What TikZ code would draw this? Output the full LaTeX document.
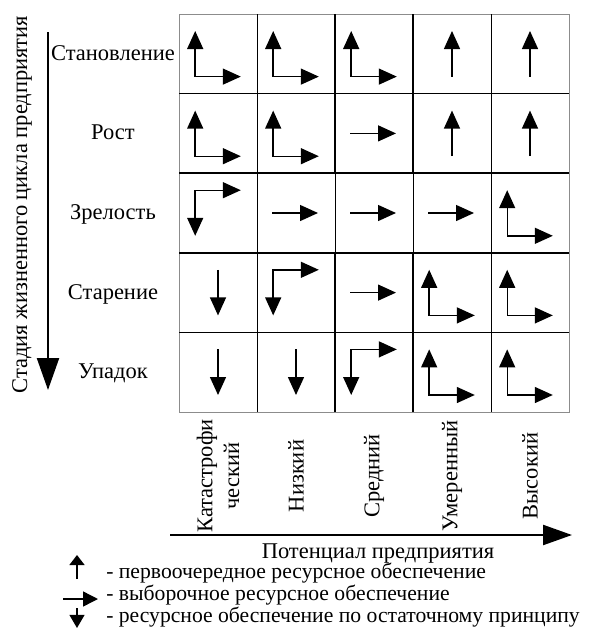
\documentclass[tikz,border=0pt]{standalone}
\usepackage{fontspec}
\setmainfont{Liberation Serif}
\usepackage{tikz}
\usetikzlibrary{positioning,calc,arrows.meta}

% arrows inside one cell (argument: cell name)
\newcommand{\arrUR}[1]{\draw[cellarr, {Triangle[length=0.45cm,width=0.4cm]}-{Triangle[length=0.45cm,width=0.4cm]}]
  ($(#1)+(-0.57,0.57)$) |- ($(#1)+(0.57,-0.57)$);}
\newcommand{\arrDR}[1]{\draw[cellarr, {Triangle[length=0.45cm,width=0.4cm]}-{Triangle[length=0.45cm,width=0.4cm]}]
  ($(#1)+(-0.57,-0.57)$) |- ($(#1)+(0.57,0.57)$);}
\newcommand{\arrU}[1]{\draw[cellarr, -{Triangle[length=0.45cm,width=0.4cm]}]
  ($(#1)+(0,-0.57)$) -- ($(#1)+(0,0.57)$);}
\newcommand{\arrD}[1]{\draw[cellarr, -{Triangle[length=0.45cm,width=0.4cm]}]
  ($(#1)+(0,0.57)$) -- ($(#1)+(0,-0.57)$);}
\newcommand{\arrR}[1]{\draw[cellarr, -{Triangle[length=0.45cm,width=0.4cm]}]
  ($(#1)+(-0.6,0)$) -- ($(#1)+(0.55,0)$);}

\begin{document}
\begin{tikzpicture}[
  cell/.style={draw=black!45, minimum width=1.95cm, minimum height=1.99cm,
    inner sep=0pt, outer sep=0pt},
  gline/.style={black, line width=0.6pt},
  tline/.style={black, line width=1.6pt},
  cellarr/.style={black, line width=1pt},
  axis/.style={black, line width=1.6pt},
  txt/.style={font=\fontsize{16}{19}\selectfont, inner sep=0pt},
  lbl/.style={txt, anchor=base},
  collbl/.style={txt, rotate=90, align=center},
  leg/.style={font=\fontsize{15.4}{13.2}\selectfont, inner sep=0pt,
    anchor=base west, align=left}
]
\useasboundingbox (0,0) rectangle (14.725,-15.725);

% ---- cells ----
\foreach \r in {1,...,5}
  \foreach \c in {1,...,5}
    \node[cell] (c\r\c) at ({4.475+1.95*(\c-0.5)},{-0.35-1.99*(\r-0.5)}) {};

% ---- grid lines ----
\foreach \c in {1,...,4}
  \draw[gline] (c1\c.north east) -- (c5\c.south east);
\foreach \r in {1,...,4}
  \draw[gline] (c\r1.south west) -- (c\r5.south east);

\draw[tline] (c12.north east) -- (c22.south east);
\draw[tline] (c13.north east) -- (c23.south east);
\draw[tline] (c42.north east) -- (c52.south east);
\draw[tline] (c43.north east) -- (c53.south east);
\draw[tline] (c21.south west) -- (c25.south east);
\draw[tline] (c31.south west) -- (c35.south east);

% ---- arrows in cells ----
\arrUR{c11} \arrUR{c12} \arrUR{c13} \arrU{c14} \arrU{c15}
\arrUR{c21} \arrUR{c22} \arrR{c23} \arrU{c24} \arrU{c25}
\arrDR{c31} \arrR{c32} \arrR{c33} \arrR{c34} \arrUR{c35}
\arrD{c41} \arrDR{c42} \arrR{c43} \arrUR{c44} \arrUR{c45}
\arrD{c51} \arrD{c52} \arrDR{c53} \arrUR{c54} \arrUR{c55}

% ---- stages (left) ----
\node[lbl] (st1) at ($(c11)+(-2.625,-0.16)$) {Становление};
\node[lbl] (st2) at ($(c21)+(-2.625,-0.16)$) {Рост};
\node[lbl] (st3) at ($(c31)+(-2.625,-0.16)$) {Зрелость};
\node[lbl] (st4) at ($(c41)+(-2.625,-0.16)$) {Старение};
\node[lbl] (st5) at ($(c51)+(-2.625,-0.16)$) {Упадок};

\coordinate (vtop) at (1.2,-0.8);
\coordinate (vend) at (1.2,-9.75);
\draw[axis, -{Triangle[length=0.8cm,width=0.55cm]}] (vtop) -- (vend);
\node[txt, rotate=90] (vlabel) at (0.55,-5.12)
  {Стадия жизненного цикла предприятия};

% ---- potential (bottom) ----
\node[collbl] (p1) at ($(c51)+(0,-2.595)$) {Катастрофи\\ческий};
\node[collbl] (p2) at ($(c52)+(0,-2.595)$) {Низкий};
\node[collbl] (p3) at ($(c53)+(0,-2.595)$) {Средний};
\node[collbl] (p4) at ($(c54)+(0,-2.595)$) {Умеренный};
\node[collbl] (p5) at ($(c55)+(0,-2.595)$) {Высокий};

\coordinate (hstart) at (4.25,-13.375);
\coordinate (hend) at (14.3,-13.375);
\draw[axis, -{Triangle[length=0.725cm,width=0.5cm]}] (hstart) -- (hend);
\node[lbl] (hlabel) at (9.45,-13.95) {Потенциал предприятия};

% ---- legend ----
\coordinate (l1a) at (1.925,-14.475);
\coordinate (l1b) at (1.925,-13.875);
\coordinate (l2a) at (1.575,-14.975);
\coordinate (l2b) at (2.45,-14.975);
\coordinate (l3a) at (1.925,-15.2);
\coordinate (l3b) at (1.925,-15.7);
\draw[cellarr, -{Triangle[length=0.25cm,width=0.375cm]}] (l1a) -- (l1b);
\draw[cellarr, -{Triangle[length=0.375cm,width=0.375cm]}] (l2a) -- (l2b);
\draw[cellarr, -{Triangle[length=0.33cm,width=0.375cm]}] (l3a) -- (l3b);

\node[leg] (legtxt) at (2.65,-15.55) {- первоочередное ресурсное обеспечение\\
  - выборочное ресурсное обеспечение\\
  - ресурсное обеспечение по остаточному принципу};
\end{tikzpicture}
\end{document}
